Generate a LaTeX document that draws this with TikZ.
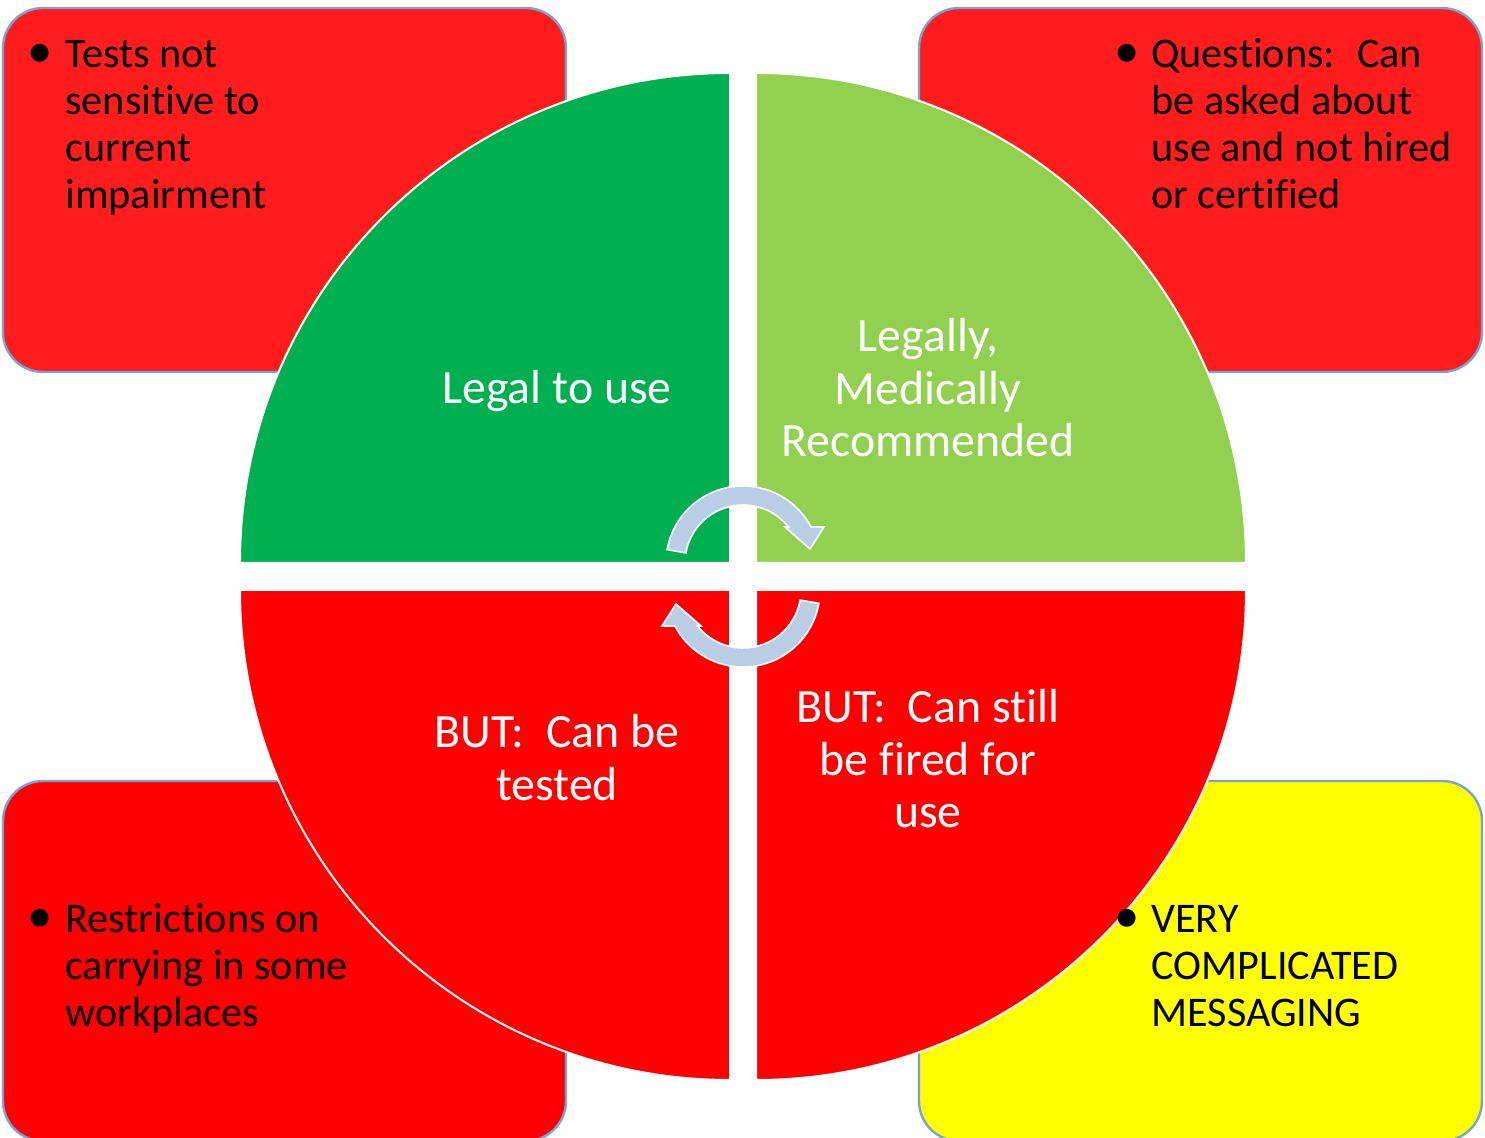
\documentclass[tikz,border=0pt]{standalone}
\usepackage{fontspec}
\setmainfont{Carlito}[Ligatures={CommonOff}, Contextuals={NoAlternate}]
\usetikzlibrary{calc}
\definecolor{boxred}{HTML}{FF1C1C}
\definecolor{purered}{HTML}{FF0000}
\definecolor{qgreen}{HTML}{00B050}
\definecolor{qlight}{HTML}{92D050}
\definecolor{bxyellow}{HTML}{FFFF00}
\definecolor{bxline}{HTML}{75A4D8}
\definecolor{arrowblue}{HTML}{B9CDE5}
\newcommand{\bul}[1]{\makebox[#1][l]{\hspace*{-0.6pt}\scalebox{1.2}{•}}}
\tikzset{
  cornerbox/.style={draw=bxline, line width=1.2pt, rounded corners=20pt},
  quad/.style={draw=white, line width=1pt},
  qtext/.style={text=white, font=\fontsize{23.9}{26.25}\selectfont, anchor=base, inner sep=0pt},
  btext/.style={text=black, font=\fontsize{21.1}{23.5}\selectfont, anchor=base west, inner sep=0pt},
  cyc/.style={fill=arrowblue, draw=white, line width=0.8pt, line join=miter}
}
\begin{document}
\begin{tikzpicture}[x=0.5pt, y=-0.5pt]
\useasboundingbox (0,0) rectangle (1485,1138);
% corner boxes
\path[cornerbox, fill=boxred] (3,8) rectangle (566,372);
\path[cornerbox, fill=boxred] (919,8) rectangle (1482,372);
\path[cornerbox, fill=purered] (3,781) rectangle (566,1141);
\path[cornerbox, fill=bxyellow] (919,781) rectangle (1482,1141);
% quadrants
\path[quad, fill=qgreen] (730,563) -- (240,563) arc[start angle=180, end angle=270, radius=490] -- cycle;
\path[quad, fill=qlight] (756,563) -- (756,73) arc[start angle=270, end angle=360, radius=490] -- cycle;
\path[quad, fill=purered] (730,590) -- (240,590) arc[start angle=180, end angle=90, radius=490] -- cycle;
\path[quad, fill=purered] (756,590) -- (1246,590) arc[start angle=0, end angle=90, radius=490] -- cycle;
% quadrant texts
\node[qtext] (q1) at (557,404) {Legal to use};
\node[qtext] (q2) at (928,352) {\begin{tabular}[t]{@{}c@{}}Legally,\\Medically\\Recommended\end{tabular}};
\node[qtext] (q3) at (557,748) {\begin{tabular}[t]{@{}c@{}}BUT:~ Can be\\tested\end{tabular}};
\node[qtext] (q4) at (928,723) {\begin{tabular}[t]{@{}c@{}}BUT:~ Can still\\be fired for\\use\end{tabular}};
% circular arrows
\coordinate (c1) at (743,563);
\path[cyc] ($(c1)+(190:77)$) arc[start angle=190, end angle=332, radius=77]
  -- (824,527) -- (810,549) -- (785,527)
  -- ($(c1)+(321.6:58)$) arc[start angle=321.6, end angle=190, radius=58] -- cycle;
\begin{scope}[rotate around={180:(743,576.5)}]
\coordinate (c2) at (743,563);
\path[cyc] ($(c2)+(190:77)$) arc[start angle=190, end angle=332, radius=77]
  -- (824,527) -- (810,549) -- (785,527)
  -- ($(c2)+(321.6:58)$) arc[start angle=321.6, end angle=190, radius=58] -- cycle;
\end{scope}
% box texts
\node[btext] (b1) at (28,68) {\begin{tabular}[t]{@{}l@{}l@{}}\bul{18.5pt}&Tests not\\&sensitive to\\&current\\&impairment\end{tabular}};
\node[btext] (b2) at (1115,68) {\begin{tabular}[t]{@{}l@{}l@{}}\bul{18pt}&Questions:~ Can\\&be asked about\\&use and not hired\\&or certified\end{tabular}};
\node[btext] (b3) at (28,933) {\begin{tabular}[t]{@{}l@{}l@{}}\bul{18.5pt}&Restrictions on\\&carrying in some\\&workplaces\end{tabular}};
\node[btext] (b4) at (1115,933) {\begin{tabular}[t]{@{}l@{}l@{}}\bul{18pt}&VERY\\&COMPLICATED\\&MESSAGING\end{tabular}};
\end{tikzpicture}
\end{document}
